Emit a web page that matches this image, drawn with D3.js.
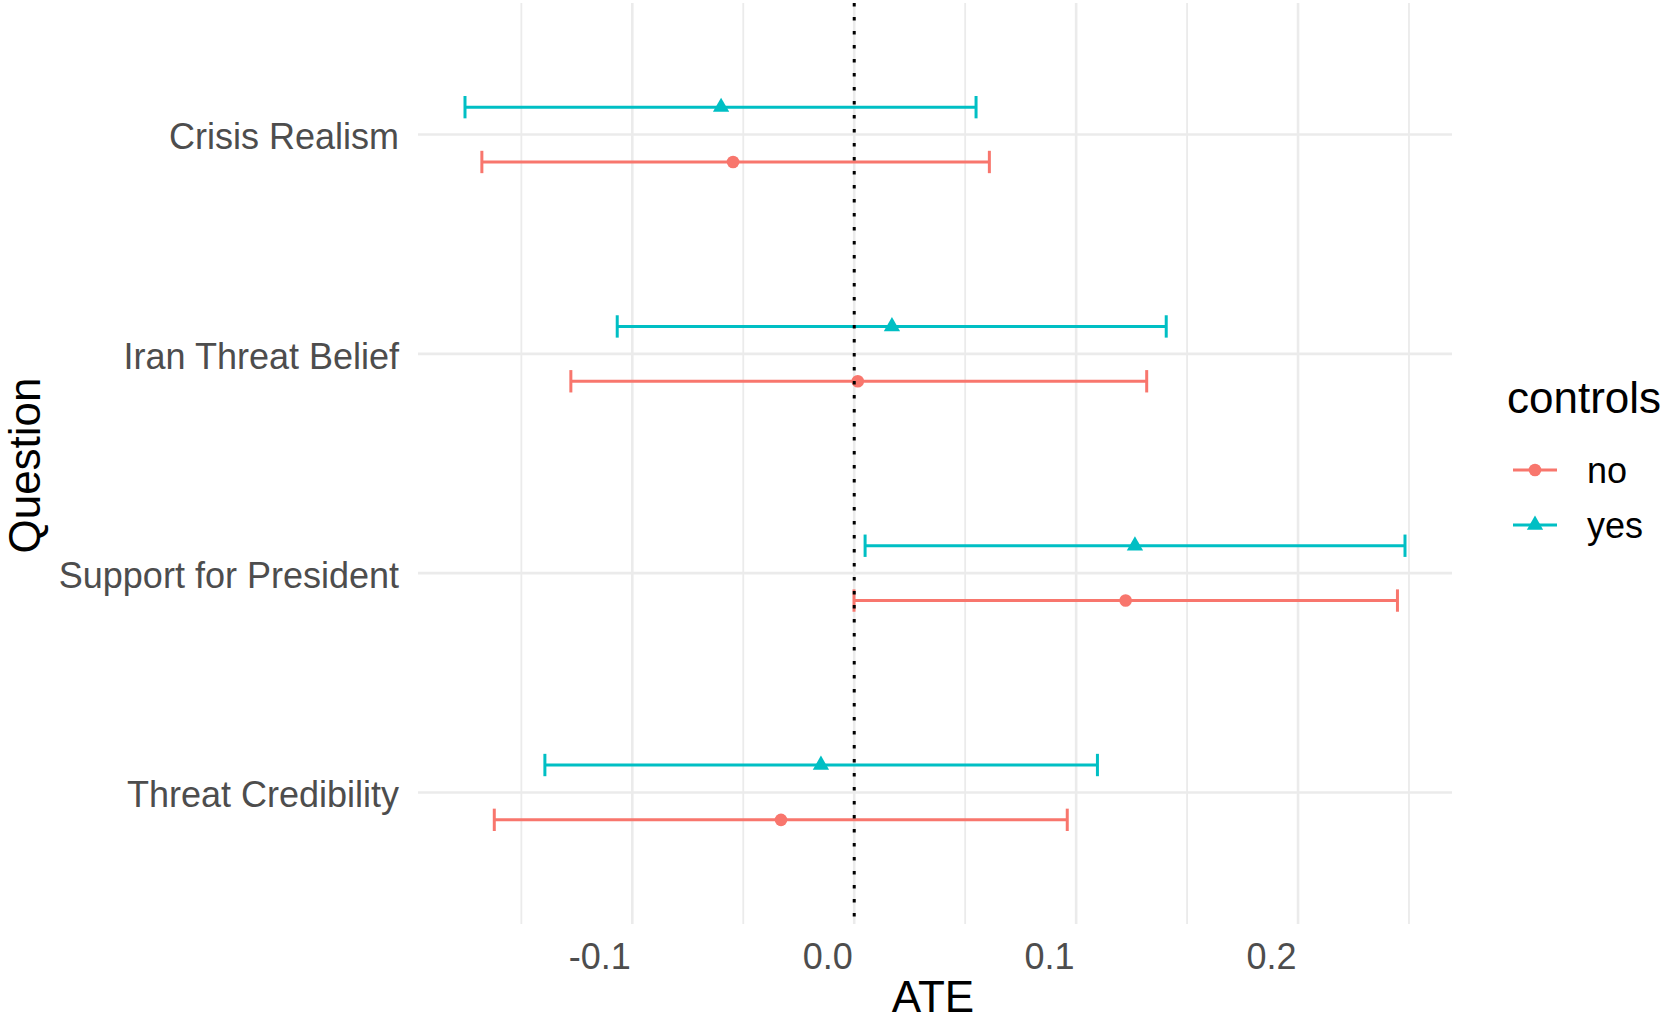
<!DOCTYPE html>
<html>
<head>
<meta charset="utf-8">
<script src="https://cdn.jsdelivr.net/npm/d3@7"></script>
<style>
  html, body { margin: 0; padding: 0; background: #fff; }
  svg { display: block; font-family: "Liberation Sans", Arial, sans-serif; }
</style>
</head>
<body>
<svg id="chart" width="1667" height="1021"></svg>
<script>
// ---- data ----
const questions = ["Crisis Realism", "Iran Threat Belief", "Support for President", "Threat Credibility"];
const controls = ["no", "yes"];
const estNo   = [-0.0546, 0.0016, 0.1223, -0.0330];
const lowNo   = [-0.1678, -0.1277, -0.0001, -0.1622];
const highNo  = [0.0609, 0.1318, 0.2448, 0.0960];
const estYes  = [-0.0600, 0.0170, 0.1265, -0.0150];
const lowYes  = [-0.1754, -0.1068, 0.0049, -0.1394];
const highYes = [0.0549, 0.1406, 0.2482, 0.1096];
const xMajorTicks = [-0.1, 0.0, 0.1, 0.2];
const xMinorTicks = [-0.15, -0.05, 0.05, 0.15, 0.25];
const refLine = [0];

const colors = { no: "#F8766D", yes: "#00BFC4" };

// build rows
const rows = [];
questions.forEach((q, i) => {
  rows.push({ q, ctrl: "no",  est: estNo[i],  lo: lowNo[i],  hi: highNo[i] });
  rows.push({ q, ctrl: "yes", est: estYes[i], lo: lowYes[i], hi: highYes[i] });
});

const svg = d3.select("#chart");
const panel = { left: 418, right: 1452, top: 3, bottom: 924 };

// scales
const allLo = d3.min(rows, d => d.lo), allHi = d3.max(rows, d => d.hi);
const pad = (allHi - allLo) * 0.05;
const x = d3.scaleLinear().domain([allLo - pad, allHi + pad]).range([panel.left, panel.right]);
const y = d3.scalePoint().domain(questions).range([panel.top, panel.bottom]).padding(0.6);
const step = y.step();
const dodge = { yes: -step * 0.125, no: step * 0.125 };
const capHalf = step * 0.051;

// grid
const grid = svg.append("g");
grid.selectAll("line.minor").data(xMinorTicks).join("line")
  .attr("x1", d => x(d)).attr("x2", d => x(d))
  .attr("y1", panel.top).attr("y2", panel.bottom)
  .attr("stroke", "#EBEBEB").attr("stroke-width", 1.8);
grid.selectAll("line.major").data(xMajorTicks).join("line")
  .attr("x1", d => x(d)).attr("x2", d => x(d))
  .attr("y1", panel.top).attr("y2", panel.bottom)
  .attr("stroke", "#EBEBEB").attr("stroke-width", 2.6);
grid.selectAll("line.hy").data(questions).join("line")
  .attr("x1", panel.left).attr("x2", panel.right)
  .attr("y1", d => y(d)).attr("y2", d => y(d))
  .attr("stroke", "#EBEBEB").attr("stroke-width", 2.6);

// error bars
const eb = svg.append("g");
rows.forEach(r => {
  const cy = y(r.q) + dodge[r.ctrl];
  const g = eb.append("g").attr("stroke", colors[r.ctrl]).attr("stroke-width", 3);
  g.append("line").attr("x1", x(r.lo)).attr("x2", x(r.hi)).attr("y1", cy).attr("y2", cy);
  g.append("line").attr("x1", x(r.lo)).attr("x2", x(r.lo)).attr("y1", cy - capHalf).attr("y2", cy + capHalf);
  g.append("line").attr("x1", x(r.hi)).attr("x2", x(r.hi)).attr("y1", cy - capHalf).attr("y2", cy + capHalf);
});

// points
const triangle = d3.symbol().type(d3.symbolTriangle).size(115);
const pts = svg.append("g");
rows.forEach(r => {
  const cy = y(r.q) + dodge[r.ctrl];
  if (r.ctrl === "no") {
    pts.append("circle").attr("cx", x(r.est)).attr("cy", cy).attr("r", 6.3).attr("fill", colors.no);
  } else {
    pts.append("path").attr("d", triangle()).attr("transform", `translate(${x(r.est)},${cy})`).attr("fill", colors.yes);
  }
});

// reference dotted line at 0
svg.append("g").selectAll("line").data(refLine).join("line")
  .attr("x1", d => x(d)).attr("x2", d => x(d))
  .attr("y1", panel.top).attr("y2", panel.bottom)
  .attr("stroke", "#000").attr("stroke-width", 3)
  .attr("stroke-dasharray", "3.5,10.5");

// x axis labels
const xAxis = d3.axisBottom(x).tickValues(xMajorTicks).tickSize(0).tickFormat(d => d.toFixed(1));
const gx = svg.append("g").attr("transform", `translate(0,${panel.bottom})`).call(xAxis);
gx.select(".domain").remove();
gx.selectAll("text")
  .attr("y", 45).attr("dy", 0).attr("dx", -2)
  .attr("text-anchor", "end")
  .attr("font-size", 36).attr("fill", "#4D4D4D")
  .attr("font-family", "'Liberation Sans', Arial, sans-serif");

// y axis labels
const yAxis = d3.axisLeft(y).tickSize(0).tickPadding(19);
const gy = svg.append("g").attr("transform", `translate(${panel.left},0)`).call(yAxis);
gy.select(".domain").remove();
gy.selectAll("text")
  .attr("dy", "0.4em")
  .attr("font-size", 36).attr("fill", "#4D4D4D")
  .attr("font-family", "'Liberation Sans', Arial, sans-serif");

// axis titles
svg.append("text").attr("x", (panel.left + panel.right) / 2 - 2).attr("y", 1012)
  .attr("text-anchor", "middle").attr("font-size", 44).attr("fill", "#000").text("ATE");
svg.append("text").attr("transform", `translate(40,${(panel.top + panel.bottom) / 2 + 2}) rotate(-90)`)
  .attr("text-anchor", "middle").attr("font-size", 44).attr("fill", "#000").text("Question");

// legend
const lg = svg.append("g");
lg.append("text").attr("x", 1507).attr("y", 413).attr("font-size", 44).attr("fill", "#000").text("controls");
const legY = { no: 470, yes: 525 };
controls.forEach(c => {
  const ly = legY[c];
  lg.append("line").attr("x1", 1513).attr("x2", 1557).attr("y1", ly).attr("y2", ly)
    .attr("stroke", colors[c]).attr("stroke-width", 3);
  if (c === "no") {
    lg.append("circle").attr("cx", 1535).attr("cy", ly).attr("r", 6.3).attr("fill", colors.no);
  } else {
    lg.append("path").attr("d", triangle()).attr("transform", `translate(1535,${ly})`).attr("fill", colors.yes);
  }
  lg.append("text").attr("x", 1587).attr("y", ly).attr("dy", "0.36em")
    .attr("font-size", 36).attr("fill", "#000").text(c);
});
</script>
</body>
</html>
